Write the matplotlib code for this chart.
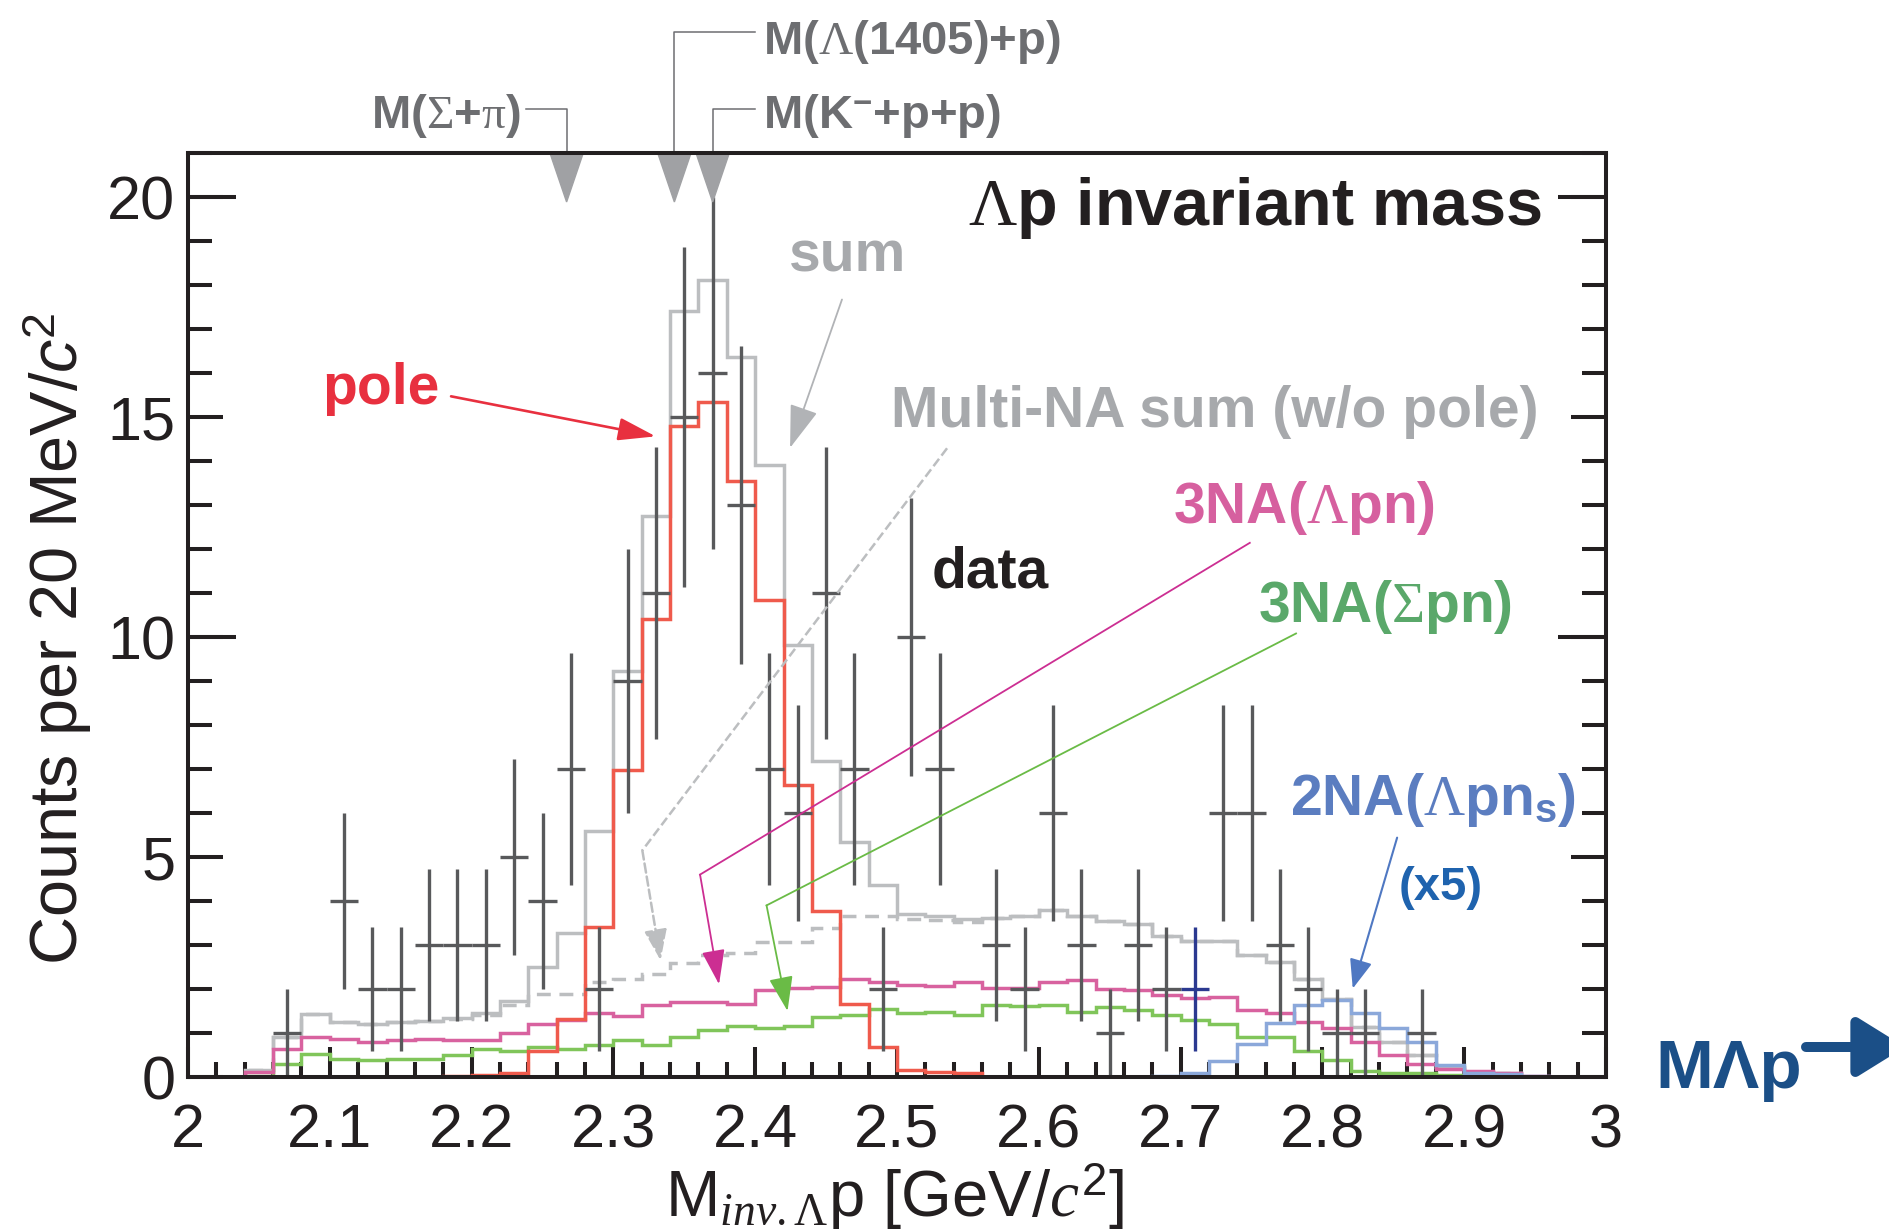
import numpy as np
import matplotlib
matplotlib.use("Agg")
import matplotlib.pyplot as plt
from matplotlib.patches import Polygon
from matplotlib.ticker import MultipleLocator, FixedLocator, FixedFormatter

plt.rcParams['font.family'] = ['Liberation Sans', 'DejaVu Sans']
plt.rcParams['mathtext.fontset'] = 'custom'
plt.rcParams['mathtext.rm'] = 'Liberation Serif'
plt.rcParams['mathtext.it'] = 'Liberation Serif:italic'
plt.rcParams['mathtext.bf'] = 'Liberation Sans:bold'
plt.rcParams['mathtext.sf'] = 'Liberation Sans:italic'
plt.rcParams['mathtext.tt'] = 'Liberation Sans'

# 20 MeV bins from 2.0 to 3.0 GeV/c^2
edges = np.round(np.arange(2.0, 3.0001, 0.02), 2)
centers = edges[:-1] + 0.01

# measured counts per bin
counts = [0, 0, 0, 1, 0, 4, 2, 2, 3, 3,
          3, 5, 4, 7, 2, 9, 11, 15, 16, 13,
          7, 6, 11, 7, 2, 10, 7, 0, 3, 2,
          6, 3, 1, 3, 2, 2, 6, 6, 3, 2,
          1, 1, 0, 1, 0, 0, 0, 0, 0, 0]
highlight_bin = 35

# fit components
fit_sum = [0, 0, 0.15, 0.91, 1.44, 1.25, 1.20, 1.25, 1.27, 1.35,
           1.46, 1.72, 2.50, 3.27, 5.60, 9.22, 12.74, 17.41, 18.12, 16.36,
           13.90, 9.81, 7.18, 5.34, 4.36, 3.71, 3.67, 3.60, 3.62, 3.67,
           3.80, 3.67, 3.55, 3.48, 3.20, 3.10, 3.08, 2.77, 2.61, 2.22,
           1.78, 1.14, 0.80, 0.49, 0.23, 0.11, 0.08, 0, 0, 0]
pole = [0, 0, 0, 0, 0, 0, 0, 0, 0, 0.03,
        0.04, 0.09, 0.59, 1.31, 3.42, 6.97, 10.40, 14.80, 15.34, 13.54,
        10.83, 6.63, 3.77, 1.67, 0.68, 0.15, 0.11, 0.08, 0, 0,
        0, 0, 0, 0, 0, 0, 0, 0, 0, 0,
        0, 0, 0, 0, 0, 0, 0, 0, 0, 0]
multi_na = [0, 0, 0.15, 0.91, 1.44, 1.25, 1.20, 1.25, 1.27, 1.32,
            1.42, 1.63, 1.89, 1.89, 2.16, 2.22, 2.33, 2.58, 2.77, 2.82,
            3.07, 3.07, 3.39, 3.67, 3.67, 3.60, 3.56, 3.52, 3.62, 3.67,
            3.80, 3.67, 3.55, 3.48, 3.20, 3.10, 3.08, 2.77, 2.61, 2.22,
            1.78, 1.14, 0.80, 0.49, 0.23, 0.11, 0.08, 0, 0, 0]
na3_lpn = [0, 0, 0.11, 0.64, 0.92, 0.87, 0.80, 0.83, 0.87, 0.85,
           0.85, 1.00, 1.20, 1.30, 1.45, 1.38, 1.64, 1.70, 1.70, 1.67,
           1.97, 2.03, 2.05, 2.22, 2.17, 2.10, 2.06, 2.17, 2.02, 2.03,
           2.16, 2.21, 2.00, 1.98, 1.86, 1.80, 1.82, 1.53, 1.45, 1.25,
           1.11, 0.80, 0.49, 0.30, 0.19, 0.14, 0.09, 0.03, 0, 0]
na3_spn = [0, 0, 0.03, 0.30, 0.52, 0.42, 0.38, 0.42, 0.42, 0.49,
           0.64, 0.59, 0.68, 0.64, 0.72, 0.84, 0.72, 0.91, 1.06, 1.15,
           1.11, 1.15, 1.36, 1.42, 1.55, 1.46, 1.48, 1.42, 1.63, 1.61,
           1.63, 1.48, 1.60, 1.52, 1.40, 1.30, 1.20, 0.91, 0.91, 0.59,
           0.38, 0.14, 0.09, 0.08, 0.05, 0.04, 0, 0, 0, 0]
na2_lpn_x5 = [0, 0, 0, 0, 0, 0, 0, 0, 0, 0,
              0, 0, 0, 0, 0, 0, 0, 0, 0, 0,
              0, 0, 0, 0, 0, 0, 0, 0, 0, 0,
              0, 0, 0, 0, 0.02, 0.09, 0.36, 0.76, 1.23, 1.64,
              1.76, 1.46, 1.11, 0.80, 0.28, 0.09, 0.06, 0.02, 0, 0]

# threshold masses marked on the top axis
thresholds = [2.267, 2.343, 2.370]

x_major = [2.0, 2.1, 2.2, 2.3, 2.4, 2.5, 2.6, 2.7, 2.8, 2.9, 3.0]
x_labels = ['2', '2.1', '2.2', '2.3', '2.4', '2.5', '2.6', '2.7', '2.8', '2.9', '3']
y_major = [0, 5, 10, 15, 20]
y_long = [10, 20]

ink = '#231f20'

fig = plt.figure(figsize=(18.9, 12.32), dpi=100)
ax = fig.add_axes([188 / 1890, 1 - 1077 / 1232, 1418 / 1890, 924 / 1232])
ax.set_xlim(2.0, 3.0)
ax.set_ylim(0, 21)

# histograms
hist_lw = 2.5
ax.stairs(fit_sum, edges, color='#bcbec0', lw=hist_lw, zorder=2)
ax.stairs(multi_na, edges, color='#bcbec0', lw=hist_lw, ls=(0, (4, 2.5)), zorder=2)
ax.stairs(na3_spn, edges, color='#80c55a', lw=hist_lw, zorder=3)
ax.stairs(na3_lpn, edges, color='#d8629f', lw=hist_lw, zorder=3)
ax.stairs(na2_lpn_x5, edges, color='#8ba8da', lw=hist_lw, zorder=3)
ax.stairs(pole, edges, color='#ef5a4c', lw=hist_lw, zorder=4)

# data points with statistical errors
counts = np.array(counts, dtype=float)
filled = counts > 0
normal = filled.copy()
normal[highlight_bin] = False
ax.errorbar(centers[normal], counts[normal], xerr=0.01, yerr=np.sqrt(counts[normal]),
            fmt='none', ecolor='#58595b', elinewidth=2.4, capsize=0, zorder=5)
ax.errorbar(centers[highlight_bin], counts[highlight_bin], xerr=0.01,
            yerr=np.sqrt(counts[highlight_bin]),
            fmt='none', ecolor='#2b3990', elinewidth=2.4, capsize=0, zorder=5)

# axis frame and ticks
for sp in ax.spines.values():
    sp.set_linewidth(2.9)
    sp.set_color(ink)
    sp.set_zorder(10)
ax.xaxis.set_major_locator(FixedLocator(x_major))
ax.xaxis.set_major_formatter(FixedFormatter(x_labels))
ax.xaxis.set_minor_locator(MultipleLocator(0.02))
ax.yaxis.set_major_locator(FixedLocator(y_major))
ax.yaxis.set_minor_locator(MultipleLocator(1))
ax.tick_params(axis='x', which='major', direction='in', length=21.6, width=2.9,
               color=ink, labelsize=44, labelcolor=ink, pad=19, top=False)
ax.tick_params(axis='x', which='minor', direction='in', length=10.8, width=2.9,
               color=ink, top=False)
ax.tick_params(axis='y', which='major', direction='in', length=25.2, width=2.9,
               color=ink, labelsize=44, labelcolor=ink, pad=9, right=True)
ax.tick_params(axis='y', which='minor', direction='in', length=17.3, width=2.9,
               color=ink, right=True)
long_frac = 48 / 1418
ytr = ax.get_yaxis_transform()
for v in y_long:
    ax.plot([0, long_frac], [v, v], color=ink, lw=2.9, transform=ytr,
            solid_capstyle='butt', zorder=6, clip_on=False)
    ax.plot([1 - long_frac, 1], [v, v], color=ink, lw=2.9, transform=ytr,
            solid_capstyle='butt', zorder=6, clip_on=False)

# threshold markers above the frame
xtr = ax.get_xaxis_transform()
tri_half = 0.0113
tri_h = 0.051
for m in thresholds:
    ax.add_patch(Polygon([(m - tri_half, 0.998), (m + tri_half, 0.998), (m, 0.998 - tri_h)],
                         closed=True, transform=xtr, color='#a0a1a4', zorder=7,
                         clip_on=False))

lab_col = '#6d6e71'
ax.plot([thresholds[0], thresholds[0], 2.2387], [1.0, 1.048, 1.048], color=lab_col,
        lw=1.1, transform=xtr, clip_on=False)
ax.plot([thresholds[1], thresholds[1], 2.3997], [1.0, 1.1306, 1.1306], color=lab_col,
        lw=1.1, transform=xtr, clip_on=False)
ax.plot([thresholds[2], thresholds[2], 2.3997], [1.0, 1.0476, 1.0476], color=lab_col,
        lw=1.1, transform=xtr, clip_on=False)
ax.text(2.2345, 1.0267, r'M($\mathrm{\Sigma}$+$\mathrm{\pi}$)', transform=xtr,
        ha='right', va='baseline', fontsize=34, fontweight='bold', color=lab_col)
ax.text(2.4052, 1.1076, r'M($\mathrm{\Lambda}$(1405)+p)', transform=xtr,
        ha='left', va='baseline', fontsize=34, fontweight='bold', color=lab_col)
ax.text(2.4052, 1.0267, r'M(K$^{\mathbf{-}}$+p+p)', transform=xtr,
        ha='left', va='baseline', fontsize=34, fontweight='bold', color=lab_col)

# labels inside the frame
ax.text(2.5499, 19.36, r'$\mathrm{\Lambda}$p invariant mass', fontsize=48,
        fontweight='bold', color=ink, ha='left', va='baseline', zorder=8)
ax.text(2.424, 18.3, 'sum', fontsize=41, fontweight='bold', color='#a7a9ac',
        ha='left', va='baseline')
ax.text(2.0944, 15.3, 'pole', fontsize=41, fontweight='bold', color='#e8303f',
        ha='left', va='baseline')
ax.text(2.4955, 14.77, 'Multi-NA sum (w/o pole)', fontsize=41, fontweight='bold',
        color='#a7a9ac', ha='left', va='baseline')
ax.text(2.6947, 12.58, r'3NA($\mathrm{\Lambda}$pn)', fontsize=41, fontweight='bold',
        color='#d6609f', ha='left', va='baseline')
ax.text(2.5244, 11.13, 'data', fontsize=41, fontweight='bold', color=ink,
        ha='left', va='baseline')
ax.text(2.7547, 10.33, r'3NA($\mathrm{\Sigma}$pn)', fontsize=41, fontweight='bold',
        color='#5aa86a', ha='left', va='baseline')
ax.text(2.777, 5.95, r'2NA($\mathrm{\Lambda}$pn$_{\mathbf{s}}$)', fontsize=41,
        fontweight='bold', color='#5b7dc0', ha='left', va='baseline')
ax.text(2.8536, 4.02, '(x5)', fontsize=34, fontweight='bold', color='#1f63ae',
        ha='left', va='baseline')


def pointer(path, color, lw, head_len, head_w, ls='-'):
    xs = [p[0] for p in path]
    ys = [p[1] for p in path]
    if len(path) > 2:
        ax.plot(xs[:-1], ys[:-1], color=color, lw=lw, ls=ls, zorder=9)
    ax.annotate('', xy=path[-1], xytext=path[-2], zorder=9,
                arrowprops=dict(arrowstyle=f'-|>,head_length={head_len},head_width={head_w}',
                                color=color, lw=lw, ls=ls, shrinkA=0, shrinkB=0,
                                mutation_scale=1))


pointer([(2.1855, 15.47), (2.3298, 14.56)], '#e8303f', 1.9, 23, 7)
pointer([(2.4612, 17.67), (2.4246, 14.30)], '#b1b3b6', 1.3, 27, 9)
pointer([(2.5353, 14.29), (2.3204, 5.15), (2.3333, 2.65)], '#bcbec0', 1.8, 19, 7, ls='--')
pointer([(2.7488, 12.14), (2.3611, 4.60), (2.3745, 2.107)], '#cc2e92', 1.3, 21.6, 7.2)
pointer([(2.7814, 10.08), (2.408, 3.90), (2.4228, 1.50)], '#6abb46', 1.3, 21.6, 7.5)
pointer([(2.8527, 5.44), (2.8214, 2.01)], '#4f78c2', 1.5, 18, 7)

# axis titles
fig.text(58 / 1890, 1 - 639 / 1232, r'Counts per 20 MeV/$\mathsf{c}^{\mathtt{2}}$',
         rotation=90, ha='center', va='center', fontsize=48, color=ink)
fig.text(894 / 1890, 1 - 1217 / 1232,
         r'M$_{\mathit{inv.}\mathrm{\Lambda}}$p [GeV/$\mathit{c}^{\mathtt{2}}$]',
         ha='center', va='baseline', fontsize=47, color=ink)

# direction hint on the right
blue_dark = '#1b4f87'
fig.text(1655 / 1890, 1 - 1088 / 1232, 'MΛp', fontsize=50, fontweight='bold',
         color=blue_dark, ha='left', va='baseline')
ax.annotate('', xy=(1.008, 1 - 1047 / 1232), xytext=(1806 / 1890, 1 - 1047 / 1232),
            xycoords='figure fraction', textcoords='figure fraction',
            arrowprops=dict(arrowstyle='-|>,head_length=29,head_width=18', color=blue_dark,
                            lw=7.2, shrinkA=0, shrinkB=0, mutation_scale=1))

fig.savefig('out.png', dpi=100)
